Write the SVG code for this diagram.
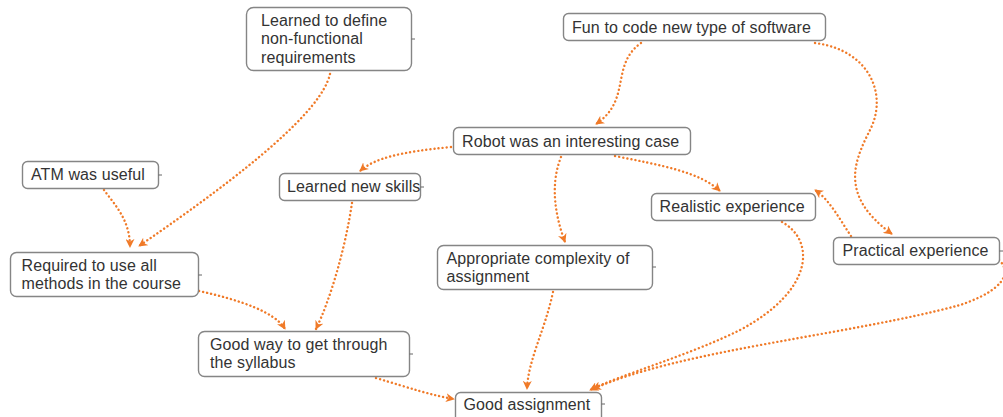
<svg xmlns="http://www.w3.org/2000/svg" width="1003" height="417" viewBox="0 0 1003 417">
  <defs>
    <marker id="arrow" viewBox="0 0 10 10" refX="9" refY="5" markerWidth="9" markerHeight="9" markerUnits="userSpaceOnUse" orient="auto">
      <path d="M0,0 L10,5 L0,10 L3,5 z" fill="#f07a28"/>
    </marker>
    <style>
      .box { fill: #ffffff; stroke: #858585; stroke-width: 1.4; }
      .lbl { font-family: "Liberation Sans", Arial, sans-serif; font-size: 16px; fill: #333333; letter-spacing: 0.1px; }
      .tick { stroke: #666666; stroke-width: 1; }
      .edge { fill: none; stroke: #f07a28; stroke-width: 2.4; stroke-linecap: round; stroke-dasharray: 0.1 4; marker-end: url(#arrow); }
    </style>
  </defs>

  <!-- connectors -->
  <g id="connectors">
    <path class="edge" d="M330,74 C322,110 250,170 139,246"/>
    <path class="edge" d="M104,190 C115,205 130,220 130,247"/>
    <path class="edge" d="M641,43 C610,65 632,100 596,124"/>
    <path class="edge" d="M815,43 C870,50 888,95 870,130 C855,160 838,195 892,234"/>
    <path class="edge" d="M451,147 C400,152 375,158 360,171"/>
    <path class="edge" d="M561,157 C550,185 555,215 565,242"/>
    <path class="edge" d="M615,156 C660,165 700,172 720,191"/>
    <path class="edge" d="M851,236 C840,220 830,200 815,190"/>
    <path class="edge" d="M352,203 C345,250 330,300 316,329"/>
    <path class="edge" d="M199,291 C240,300 275,312 285,329"/>
    <path class="edge" d="M376,378 C410,388 430,395 454,399"/>
    <path class="edge" d="M553,292 C545,330 528,360 527,389"/>
    <path class="edge" d="M782,222 C815,240 815,290 740,330 C690,355 620,375 590,390"/>
    <path class="edge" d="M999,260 C1012,272 1005,290 960,305 C850,335 680,350 593,389"/>
  </g>

  <g id="n_nfr">
    <rect class="box" x="246.5" y="7.5" width="165" height="63" rx="7"/>
    <line class="tick" x1="411.5" y1="39" x2="415" y2="39"/>
    <text class="lbl" x="261" y="25.5">Learned to define</text>
    <text class="lbl" x="261" y="44">non-functional</text>
    <text class="lbl" x="261" y="62.5">requirements</text>
  </g>

  <g id="n_fun">
    <rect class="box" x="563.5" y="13.5" width="262" height="27" rx="5"/>
    <text class="lbl" x="572" y="32.5">Fun to code new type of software</text>
  </g>

  <g id="n_robot">
    <rect class="box" x="453.5" y="127.5" width="237" height="27" rx="5"/>
    <text class="lbl" x="462" y="146.5">Robot was an interesting case</text>
  </g>

  <g id="n_atm">
    <rect class="box" x="22.5" y="161.5" width="136" height="27" rx="5"/>
    <line class="tick" x1="158.5" y1="175" x2="162" y2="175"/>
    <text class="lbl" x="31" y="180">ATM was useful</text>
  </g>

  <g id="n_skills">
    <rect class="box" x="279.5" y="173.5" width="141" height="27" rx="5"/>
    <line class="tick" x1="420.5" y1="187" x2="424" y2="187"/>
    <text class="lbl" x="287" y="192">Learned new skills</text>
  </g>

  <g id="n_req">
    <rect class="box" x="10.5" y="252.5" width="188" height="44" rx="6"/>
    <line class="tick" x1="198.5" y1="275" x2="202" y2="275"/>
    <text class="lbl" x="21.5" y="270.5">Required to use all</text>
    <text class="lbl" x="21.5" y="288.5">methods in the course</text>
  </g>

  <g id="n_approp">
    <rect class="box" x="437.5" y="245.5" width="215" height="44" rx="6"/>
    <line class="tick" x1="652.5" y1="267" x2="656" y2="267"/>
    <text class="lbl" x="446.5" y="263.5">Appropriate complexity of</text>
    <text class="lbl" x="446.5" y="281.5">assignment</text>
  </g>

  <g id="n_real">
    <rect class="box" x="651.5" y="193.5" width="164" height="27" rx="5"/>
    <text class="lbl" x="659.5" y="212">Realistic experience</text>
  </g>

  <g id="n_prac">
    <rect class="box" x="833.5" y="237.5" width="166" height="27" rx="5"/>
    <line class="tick" x1="999.5" y1="251" x2="1003" y2="251"/>
    <text class="lbl" x="842.5" y="256">Practical experience</text>
  </g>

  <g id="n_way">
    <rect class="box" x="198.5" y="331.5" width="211" height="45" rx="6"/>
    <line class="tick" x1="409.5" y1="354" x2="413" y2="354"/>
    <text class="lbl" x="210" y="350">Good way to get through</text>
    <text class="lbl" x="210" y="368">the syllabus</text>
  </g>

  <g id="n_good">
    <rect class="box" x="455.5" y="392.5" width="146" height="30" rx="5"/>
    <line class="tick" x1="601.5" y1="404" x2="605" y2="404"/>
    <text class="lbl" x="463.5" y="410">Good assignment</text>
  </g>
</svg>
